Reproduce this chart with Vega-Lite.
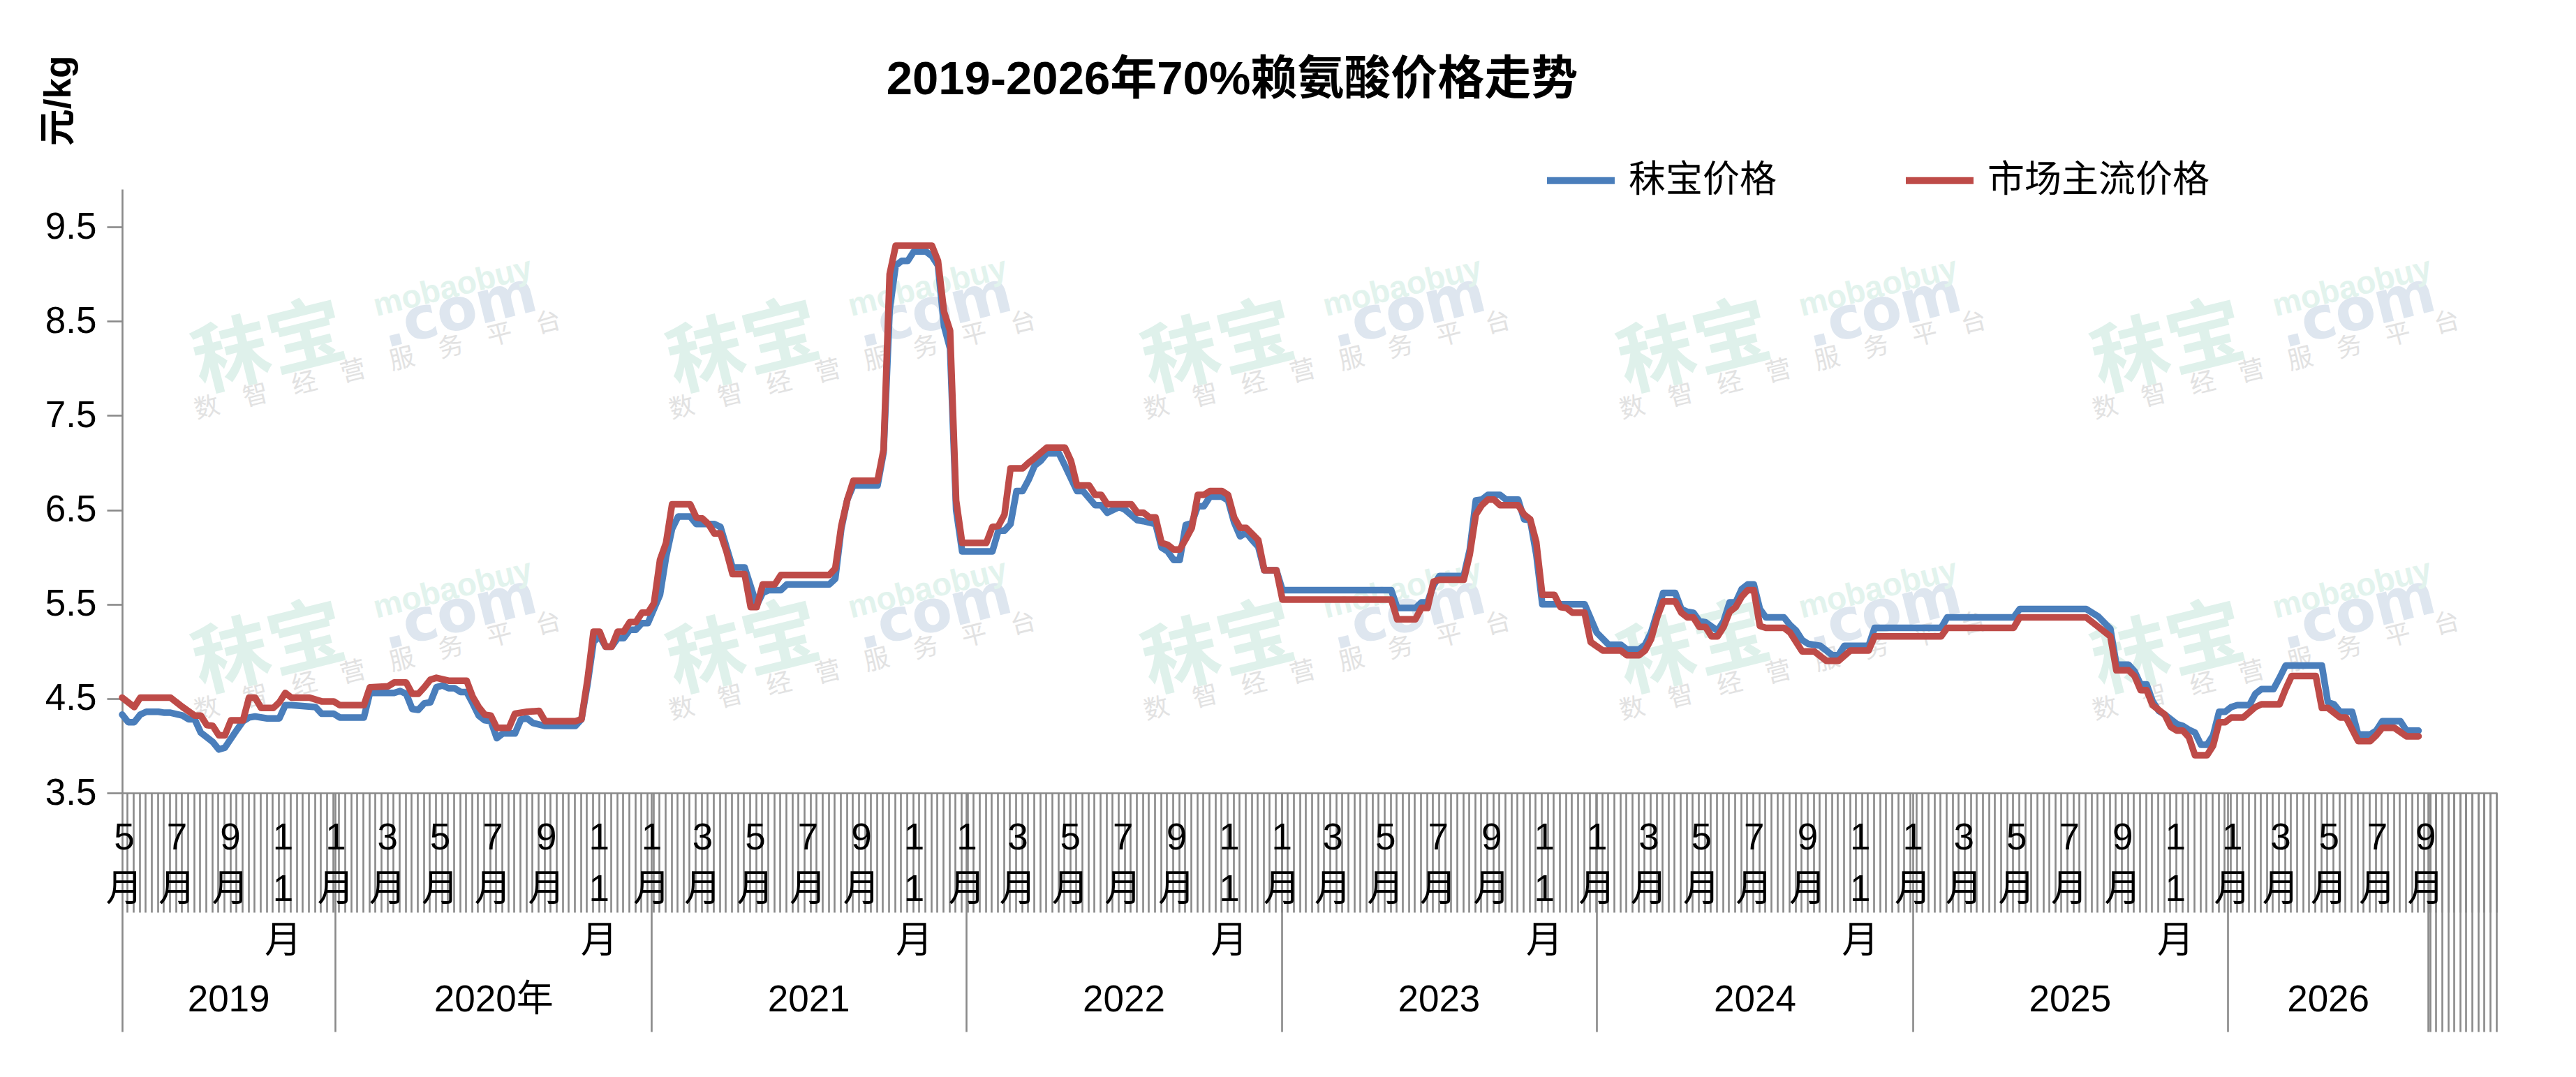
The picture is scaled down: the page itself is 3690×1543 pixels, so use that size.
{
"$schema": "https://vega.github.io/schema/vega-lite/v6.json",
"width": 3402,
"height": 865,
"autosize": {"type": "none"},
"padding": {"left": 175, "top": 271, "right": 113, "bottom": 407},
"background": "#ffffff",
"config": {"font": "Liberation Sans, Noto Sans CJK SC, sans-serif", "view": {"stroke": null}},
"title": {"text": "2019-2026年70%赖氨酸价格走势", "fontSize": 67, "fontWeight": "bold", "color": "#000000", "anchor": "middle", "frame": "group", "baseline": "alphabetic", "offset": 0, "dx": -111, "dy": 123},
"data": {"values": [
{"series":"秣宝价格","date":"2019-04-29","price":4.33},
{"series":"秣宝价格","date":"2019-05-06","price":4.25},
{"series":"秣宝价格","date":"2019-05-13","price":4.25},
{"series":"秣宝价格","date":"2019-05-20","price":4.33},
{"series":"秣宝价格","date":"2019-05-27","price":4.36},
{"series":"秣宝价格","date":"2019-06-10","price":4.36},
{"series":"秣宝价格","date":"2019-06-17","price":4.35},
{"series":"秣宝价格","date":"2019-06-24","price":4.35},
{"series":"秣宝价格","date":"2019-07-08","price":4.32},
{"series":"秣宝价格","date":"2019-07-15","price":4.28},
{"series":"秣宝价格","date":"2019-07-22","price":4.28},
{"series":"秣宝价格","date":"2019-07-29","price":4.14},
{"series":"秣宝价格","date":"2019-08-12","price":4.04},
{"series":"秣宝价格","date":"2019-08-19","price":3.96},
{"series":"秣宝价格","date":"2019-08-26","price":3.98},
{"series":"秣宝价格","date":"2019-09-09","price":4.17},
{"series":"秣宝价格","date":"2019-09-16","price":4.26},
{"series":"秣宝价格","date":"2019-09-23","price":4.30},
{"series":"秣宝价格","date":"2019-09-30","price":4.31},
{"series":"秣宝价格","date":"2019-10-14","price":4.29},
{"series":"秣宝价格","date":"2019-10-28","price":4.29},
{"series":"秣宝价格","date":"2019-11-04","price":4.43},
{"series":"秣宝价格","date":"2019-11-11","price":4.43},
{"series":"秣宝价格","date":"2019-12-09","price":4.41},
{"series":"秣宝价格","date":"2019-12-16","price":4.34},
{"series":"秣宝价格","date":"2019-12-30","price":4.34},
{"series":"秣宝价格","date":"2020-01-06","price":4.30},
{"series":"秣宝价格","date":"2020-02-03","price":4.30},
{"series":"秣宝价格","date":"2020-02-10","price":4.56},
{"series":"秣宝价格","date":"2020-03-09","price":4.56},
{"series":"秣宝价格","date":"2020-03-16","price":4.58},
{"series":"秣宝价格","date":"2020-03-23","price":4.55},
{"series":"秣宝价格","date":"2020-03-30","price":4.39},
{"series":"秣宝价格","date":"2020-04-06","price":4.38},
{"series":"秣宝价格","date":"2020-04-13","price":4.45},
{"series":"秣宝价格","date":"2020-04-20","price":4.46},
{"series":"秣宝价格","date":"2020-04-27","price":4.62},
{"series":"秣宝价格","date":"2020-05-04","price":4.64},
{"series":"秣宝价格","date":"2020-05-11","price":4.61},
{"series":"秣宝价格","date":"2020-05-18","price":4.61},
{"series":"秣宝价格","date":"2020-05-25","price":4.57},
{"series":"秣宝价格","date":"2020-06-01","price":4.57},
{"series":"秣宝价格","date":"2020-06-08","price":4.45},
{"series":"秣宝价格","date":"2020-06-15","price":4.32},
{"series":"秣宝价格","date":"2020-06-22","price":4.27},
{"series":"秣宝价格","date":"2020-06-29","price":4.26},
{"series":"秣宝价格","date":"2020-07-06","price":4.08},
{"series":"秣宝价格","date":"2020-07-13","price":4.13},
{"series":"秣宝价格","date":"2020-07-27","price":4.13},
{"series":"秣宝价格","date":"2020-08-03","price":4.28},
{"series":"秣宝价格","date":"2020-08-10","price":4.29},
{"series":"秣宝价格","date":"2020-08-17","price":4.24},
{"series":"秣宝价格","date":"2020-08-31","price":4.21},
{"series":"秣宝价格","date":"2020-10-05","price":4.21},
{"series":"秣宝价格","date":"2020-10-12","price":4.28},
{"series":"秣宝价格","date":"2020-10-19","price":4.65},
{"series":"秣宝价格","date":"2020-10-26","price":5.10},
{"series":"秣宝价格","date":"2020-11-02","price":5.16},
{"series":"秣宝价格","date":"2020-11-09","price":5.05},
{"series":"秣宝价格","date":"2020-11-16","price":5.05},
{"series":"秣宝价格","date":"2020-11-23","price":5.14},
{"series":"秣宝价格","date":"2020-11-30","price":5.14},
{"series":"秣宝价格","date":"2020-12-07","price":5.23},
{"series":"秣宝价格","date":"2020-12-14","price":5.23},
{"series":"秣宝价格","date":"2020-12-21","price":5.30},
{"series":"秣宝价格","date":"2020-12-28","price":5.30},
{"series":"秣宝价格","date":"2021-01-04","price":5.45},
{"series":"秣宝价格","date":"2021-01-11","price":5.60},
{"series":"秣宝价格","date":"2021-01-18","price":6.00},
{"series":"秣宝价格","date":"2021-01-25","price":6.30},
{"series":"秣宝价格","date":"2021-02-01","price":6.43},
{"series":"秣宝价格","date":"2021-02-15","price":6.43},
{"series":"秣宝价格","date":"2021-02-22","price":6.35},
{"series":"秣宝价格","date":"2021-03-15","price":6.35},
{"series":"秣宝价格","date":"2021-03-22","price":6.32},
{"series":"秣宝价格","date":"2021-04-05","price":5.89},
{"series":"秣宝价格","date":"2021-04-19","price":5.89},
{"series":"秣宝价格","date":"2021-05-03","price":5.49},
{"series":"秣宝价格","date":"2021-05-10","price":5.62},
{"series":"秣宝价格","date":"2021-05-17","price":5.65},
{"series":"秣宝价格","date":"2021-05-31","price":5.65},
{"series":"秣宝价格","date":"2021-06-07","price":5.71},
{"series":"秣宝价格","date":"2021-07-26","price":5.71},
{"series":"秣宝价格","date":"2021-08-02","price":5.77},
{"series":"秣宝价格","date":"2021-08-09","price":6.30},
{"series":"秣宝价格","date":"2021-08-16","price":6.61},
{"series":"秣宝价格","date":"2021-08-23","price":6.76},
{"series":"秣宝价格","date":"2021-09-20","price":6.76},
{"series":"秣宝价格","date":"2021-09-27","price":7.11},
{"series":"秣宝价格","date":"2021-10-04","price":8.62},
{"series":"秣宝价格","date":"2021-10-11","price":9.09},
{"series":"秣宝价格","date":"2021-10-18","price":9.14},
{"series":"秣宝价格","date":"2021-10-25","price":9.14},
{"series":"秣宝价格","date":"2021-11-01","price":9.24},
{"series":"秣宝价格","date":"2021-11-15","price":9.24},
{"series":"秣宝价格","date":"2021-11-22","price":9.19},
{"series":"秣宝价格","date":"2021-11-29","price":9.09},
{"series":"秣宝价格","date":"2021-12-06","price":8.45},
{"series":"秣宝价格","date":"2021-12-13","price":8.21},
{"series":"秣宝价格","date":"2021-12-20","price":6.50},
{"series":"秣宝价格","date":"2021-12-27","price":6.06},
{"series":"秣宝价格","date":"2022-01-31","price":6.06},
{"series":"秣宝价格","date":"2022-02-07","price":6.28},
{"series":"秣宝价格","date":"2022-02-14","price":6.28},
{"series":"秣宝价格","date":"2022-02-21","price":6.35},
{"series":"秣宝价格","date":"2022-02-28","price":6.70},
{"series":"秣宝价格","date":"2022-03-07","price":6.70},
{"series":"秣宝价格","date":"2022-03-14","price":6.82},
{"series":"秣宝价格","date":"2022-03-21","price":6.97},
{"series":"秣宝价格","date":"2022-03-28","price":7.02},
{"series":"秣宝价格","date":"2022-04-04","price":7.10},
{"series":"秣宝价格","date":"2022-04-18","price":7.10},
{"series":"秣宝价格","date":"2022-04-25","price":6.97},
{"series":"秣宝价格","date":"2022-05-09","price":6.70},
{"series":"秣宝价格","date":"2022-05-16","price":6.70},
{"series":"秣宝价格","date":"2022-05-30","price":6.55},
{"series":"秣宝价格","date":"2022-06-06","price":6.55},
{"series":"秣宝价格","date":"2022-06-13","price":6.47},
{"series":"秣宝价格","date":"2022-06-20","price":6.50},
{"series":"秣宝价格","date":"2022-06-27","price":6.53},
{"series":"秣宝价格","date":"2022-07-04","price":6.50},
{"series":"秣宝价格","date":"2022-07-18","price":6.39},
{"series":"秣宝价格","date":"2022-07-25","price":6.38},
{"series":"秣宝价格","date":"2022-08-08","price":6.35},
{"series":"秣宝价格","date":"2022-08-15","price":6.10},
{"series":"秣宝价格","date":"2022-08-22","price":6.06},
{"series":"秣宝价格","date":"2022-08-29","price":5.97},
{"series":"秣宝价格","date":"2022-09-05","price":5.97},
{"series":"秣宝价格","date":"2022-09-12","price":6.34},
{"series":"秣宝价格","date":"2022-09-19","price":6.36},
{"series":"秣宝价格","date":"2022-09-26","price":6.54},
{"series":"秣宝价格","date":"2022-10-03","price":6.54},
{"series":"秣宝价格","date":"2022-10-10","price":6.64},
{"series":"秣宝价格","date":"2022-10-24","price":6.64},
{"series":"秣宝价格","date":"2022-10-31","price":6.60},
{"series":"秣宝价格","date":"2022-11-07","price":6.37},
{"series":"秣宝价格","date":"2022-11-14","price":6.22},
{"series":"秣宝价格","date":"2022-11-21","price":6.26},
{"series":"秣宝价格","date":"2022-11-28","price":6.18},
{"series":"秣宝价格","date":"2022-12-05","price":6.11},
{"series":"秣宝价格","date":"2022-12-12","price":5.86},
{"series":"秣宝价格","date":"2022-12-26","price":5.86},
{"series":"秣宝价格","date":"2023-01-02","price":5.65},
{"series":"秣宝价格","date":"2023-05-08","price":5.65},
{"series":"秣宝价格","date":"2023-05-15","price":5.46},
{"series":"秣宝价格","date":"2023-06-05","price":5.46},
{"series":"秣宝价格","date":"2023-06-12","price":5.52},
{"series":"秣宝价格","date":"2023-06-19","price":5.52},
{"series":"秣宝价格","date":"2023-06-26","price":5.70},
{"series":"秣宝价格","date":"2023-07-03","price":5.80},
{"series":"秣宝价格","date":"2023-07-31","price":5.80},
{"series":"秣宝价格","date":"2023-08-07","price":6.08},
{"series":"秣宝价格","date":"2023-08-14","price":6.60},
{"series":"秣宝价格","date":"2023-08-21","price":6.61},
{"series":"秣宝价格","date":"2023-08-28","price":6.66},
{"series":"秣宝价格","date":"2023-09-11","price":6.66},
{"series":"秣宝价格","date":"2023-09-18","price":6.61},
{"series":"秣宝价格","date":"2023-10-02","price":6.61},
{"series":"秣宝价格","date":"2023-10-09","price":6.40},
{"series":"秣宝价格","date":"2023-10-16","price":6.39},
{"series":"秣宝价格","date":"2023-10-23","price":6.03},
{"series":"秣宝价格","date":"2023-10-30","price":5.50},
{"series":"秣宝价格","date":"2023-12-18","price":5.50},
{"series":"秣宝价格","date":"2023-12-25","price":5.35},
{"series":"秣宝价格","date":"2024-01-01","price":5.20},
{"series":"秣宝价格","date":"2024-01-15","price":5.07},
{"series":"秣宝价格","date":"2024-01-29","price":5.07},
{"series":"秣宝价格","date":"2024-02-05","price":5.02},
{"series":"秣宝价格","date":"2024-02-19","price":5.02},
{"series":"秣宝价格","date":"2024-02-26","price":5.07},
{"series":"秣宝价格","date":"2024-03-04","price":5.20},
{"series":"秣宝价格","date":"2024-03-18","price":5.62},
{"series":"秣宝价格","date":"2024-04-01","price":5.62},
{"series":"秣宝价格","date":"2024-04-08","price":5.45},
{"series":"秣宝价格","date":"2024-04-15","price":5.42},
{"series":"秣宝价格","date":"2024-04-22","price":5.41},
{"series":"秣宝价格","date":"2024-04-29","price":5.32},
{"series":"秣宝价格","date":"2024-05-06","price":5.31},
{"series":"秣宝价格","date":"2024-05-20","price":5.22},
{"series":"秣宝价格","date":"2024-05-27","price":5.32},
{"series":"秣宝价格","date":"2024-06-03","price":5.52},
{"series":"秣宝价格","date":"2024-06-10","price":5.52},
{"series":"秣宝价格","date":"2024-06-17","price":5.66},
{"series":"秣宝价格","date":"2024-06-24","price":5.71},
{"series":"秣宝价格","date":"2024-07-01","price":5.71},
{"series":"秣宝价格","date":"2024-07-08","price":5.45},
{"series":"秣宝价格","date":"2024-07-15","price":5.36},
{"series":"秣宝价格","date":"2024-08-05","price":5.36},
{"series":"秣宝价格","date":"2024-08-12","price":5.28},
{"series":"秣宝价格","date":"2024-08-19","price":5.22},
{"series":"秣宝价格","date":"2024-08-26","price":5.12},
{"series":"秣宝价格","date":"2024-09-02","price":5.08},
{"series":"秣宝价格","date":"2024-09-16","price":5.06},
{"series":"秣宝价格","date":"2024-09-30","price":4.96},
{"series":"秣宝价格","date":"2024-10-07","price":4.96},
{"series":"秣宝价格","date":"2024-10-14","price":5.06},
{"series":"秣宝价格","date":"2024-11-11","price":5.06},
{"series":"秣宝价格","date":"2024-11-18","price":5.25},
{"series":"秣宝价格","date":"2025-02-03","price":5.25},
{"series":"秣宝价格","date":"2025-02-10","price":5.36},
{"series":"秣宝价格","date":"2025-04-28","price":5.36},
{"series":"秣宝价格","date":"2025-05-05","price":5.45},
{"series":"秣宝价格","date":"2025-07-21","price":5.45},
{"series":"秣宝价格","date":"2025-08-04","price":5.37},
{"series":"秣宝价格","date":"2025-08-18","price":5.24},
{"series":"秣宝价格","date":"2025-08-25","price":4.86},
{"series":"秣宝价格","date":"2025-09-08","price":4.86},
{"series":"秣宝价格","date":"2025-09-15","price":4.79},
{"series":"秣宝价格","date":"2025-09-22","price":4.65},
{"series":"秣宝价格","date":"2025-09-29","price":4.65},
{"series":"秣宝价格","date":"2025-10-06","price":4.47},
{"series":"秣宝价格","date":"2025-10-13","price":4.37},
{"series":"秣宝价格","date":"2025-10-20","price":4.33},
{"series":"秣宝价格","date":"2025-11-03","price":4.23},
{"series":"秣宝价格","date":"2025-11-10","price":4.21},
{"series":"秣宝价格","date":"2025-11-17","price":4.17},
{"series":"秣宝价格","date":"2025-11-24","price":4.14},
{"series":"秣宝价格","date":"2025-12-01","price":4.01},
{"series":"秣宝价格","date":"2025-12-08","price":4.01},
{"series":"秣宝价格","date":"2025-12-15","price":4.11},
{"series":"秣宝价格","date":"2025-12-22","price":4.36},
{"series":"秣宝价格","date":"2025-12-29","price":4.36},
{"series":"秣宝价格","date":"2026-01-05","price":4.41},
{"series":"秣宝价格","date":"2026-01-12","price":4.43},
{"series":"秣宝价格","date":"2026-01-26","price":4.43},
{"series":"秣宝价格","date":"2026-02-02","price":4.55},
{"series":"秣宝价格","date":"2026-02-09","price":4.60},
{"series":"秣宝价格","date":"2026-02-23","price":4.60},
{"series":"秣宝价格","date":"2026-03-02","price":4.72},
{"series":"秣宝价格","date":"2026-03-09","price":4.85},
{"series":"秣宝价格","date":"2026-04-20","price":4.85},
{"series":"秣宝价格","date":"2026-04-27","price":4.46},
{"series":"秣宝价格","date":"2026-05-04","price":4.44},
{"series":"秣宝价格","date":"2026-05-11","price":4.36},
{"series":"秣宝价格","date":"2026-05-25","price":4.36},
{"series":"秣宝价格","date":"2026-06-01","price":4.12},
{"series":"秣宝价格","date":"2026-06-15","price":4.12},
{"series":"秣宝价格","date":"2026-06-22","price":4.16},
{"series":"秣宝价格","date":"2026-06-29","price":4.26},
{"series":"秣宝价格","date":"2026-07-20","price":4.26},
{"series":"秣宝价格","date":"2026-07-27","price":4.16},
{"series":"秣宝价格","date":"2026-08-10","price":4.16},
{"series":"市场主流价格","date":"2019-04-29","price":4.51},
{"series":"市场主流价格","date":"2019-05-13","price":4.41},
{"series":"市场主流价格","date":"2019-05-20","price":4.51},
{"series":"市场主流价格","date":"2019-06-24","price":4.51},
{"series":"市场主流价格","date":"2019-07-08","price":4.41},
{"series":"市场主流价格","date":"2019-07-22","price":4.32},
{"series":"市场主流价格","date":"2019-07-29","price":4.32},
{"series":"市场主流价格","date":"2019-08-05","price":4.22},
{"series":"市场主流价格","date":"2019-08-12","price":4.21},
{"series":"市场主流价格","date":"2019-08-19","price":4.11},
{"series":"市场主流价格","date":"2019-08-26","price":4.11},
{"series":"市场主流价格","date":"2019-09-02","price":4.27},
{"series":"市场主流价格","date":"2019-09-16","price":4.27},
{"series":"市场主流价格","date":"2019-09-23","price":4.51},
{"series":"市场主流价格","date":"2019-09-30","price":4.51},
{"series":"市场主流价格","date":"2019-10-07","price":4.40},
{"series":"市场主流价格","date":"2019-10-21","price":4.40},
{"series":"市场主流价格","date":"2019-10-28","price":4.46},
{"series":"市场主流价格","date":"2019-11-04","price":4.56},
{"series":"市场主流价格","date":"2019-11-11","price":4.51},
{"series":"市场主流价格","date":"2019-12-02","price":4.51},
{"series":"市场主流价格","date":"2019-12-16","price":4.47},
{"series":"市场主流价格","date":"2019-12-30","price":4.47},
{"series":"市场主流价格","date":"2020-01-06","price":4.43},
{"series":"市场主流价格","date":"2020-02-03","price":4.43},
{"series":"市场主流价格","date":"2020-02-10","price":4.62},
{"series":"市场主流价格","date":"2020-03-02","price":4.63},
{"series":"市场主流价格","date":"2020-03-09","price":4.67},
{"series":"市场主流价格","date":"2020-03-23","price":4.67},
{"series":"市场主流价格","date":"2020-03-30","price":4.55},
{"series":"市场主流价格","date":"2020-04-06","price":4.55},
{"series":"市场主流价格","date":"2020-04-13","price":4.62},
{"series":"市场主流价格","date":"2020-04-20","price":4.70},
{"series":"市场主流价格","date":"2020-04-27","price":4.72},
{"series":"市场主流价格","date":"2020-05-11","price":4.69},
{"series":"市场主流价格","date":"2020-06-01","price":4.69},
{"series":"市场主流价格","date":"2020-06-08","price":4.52},
{"series":"市场主流价格","date":"2020-06-15","price":4.41},
{"series":"市场主流价格","date":"2020-06-22","price":4.33},
{"series":"市场主流价格","date":"2020-06-29","price":4.32},
{"series":"市场主流价格","date":"2020-07-06","price":4.19},
{"series":"市场主流价格","date":"2020-07-20","price":4.19},
{"series":"市场主流价格","date":"2020-07-27","price":4.34},
{"series":"市场主流价格","date":"2020-08-10","price":4.36},
{"series":"市场主流价格","date":"2020-08-24","price":4.37},
{"series":"市场主流价格","date":"2020-08-31","price":4.26},
{"series":"市场主流价格","date":"2020-10-05","price":4.26},
{"series":"市场主流价格","date":"2020-10-12","price":4.28},
{"series":"市场主流价格","date":"2020-10-19","price":4.70},
{"series":"市场主流价格","date":"2020-10-26","price":5.21},
{"series":"市场主流价格","date":"2020-11-02","price":5.21},
{"series":"市场主流价格","date":"2020-11-09","price":5.05},
{"series":"市场主流价格","date":"2020-11-16","price":5.05},
{"series":"市场主流价格","date":"2020-11-23","price":5.21},
{"series":"市场主流价格","date":"2020-11-30","price":5.21},
{"series":"市场主流价格","date":"2020-12-07","price":5.31},
{"series":"市场主流价格","date":"2020-12-14","price":5.31},
{"series":"市场主流价格","date":"2020-12-21","price":5.41},
{"series":"市场主流价格","date":"2020-12-28","price":5.41},
{"series":"市场主流价格","date":"2021-01-04","price":5.51},
{"series":"市场主流价格","date":"2021-01-11","price":5.97},
{"series":"市场主流价格","date":"2021-01-18","price":6.15},
{"series":"市场主流价格","date":"2021-01-25","price":6.56},
{"series":"市场主流价格","date":"2021-02-15","price":6.56},
{"series":"市场主流价格","date":"2021-02-22","price":6.42},
{"series":"市场主流价格","date":"2021-03-01","price":6.41},
{"series":"市场主流价格","date":"2021-03-08","price":6.35},
{"series":"市场主流价格","date":"2021-03-15","price":6.25},
{"series":"市场主流价格","date":"2021-03-22","price":6.25},
{"series":"市场主流价格","date":"2021-03-29","price":6.06},
{"series":"市场主流价格","date":"2021-04-05","price":5.82},
{"series":"市场主流价格","date":"2021-04-19","price":5.82},
{"series":"市场主流价格","date":"2021-04-26","price":5.47},
{"series":"市场主流价格","date":"2021-05-03","price":5.47},
{"series":"市场主流价格","date":"2021-05-10","price":5.71},
{"series":"市场主流价格","date":"2021-05-24","price":5.71},
{"series":"市场主流价格","date":"2021-05-31","price":5.81},
{"series":"市场主流价格","date":"2021-07-26","price":5.81},
{"series":"市场主流价格","date":"2021-08-02","price":5.88},
{"series":"市场主流价格","date":"2021-08-09","price":6.33},
{"series":"市场主流价格","date":"2021-08-16","price":6.61},
{"series":"市场主流价格","date":"2021-08-23","price":6.81},
{"series":"市场主流价格","date":"2021-09-20","price":6.81},
{"series":"市场主流价格","date":"2021-09-27","price":7.14},
{"series":"市场主流价格","date":"2021-10-04","price":9.00},
{"series":"市场主流价格","date":"2021-10-11","price":9.30},
{"series":"市场主流价格","date":"2021-11-22","price":9.30},
{"series":"市场主流价格","date":"2021-11-29","price":9.14},
{"series":"市场主流价格","date":"2021-12-06","price":8.60},
{"series":"市场主流价格","date":"2021-12-13","price":8.40},
{"series":"市场主流价格","date":"2021-12-20","price":6.60},
{"series":"市场主流价格","date":"2021-12-27","price":6.15},
{"series":"市场主流价格","date":"2022-01-24","price":6.15},
{"series":"市场主流价格","date":"2022-01-31","price":6.32},
{"series":"市场主流价格","date":"2022-02-07","price":6.33},
{"series":"市场主流价格","date":"2022-02-14","price":6.45},
{"series":"市场主流价格","date":"2022-02-21","price":6.94},
{"series":"市场主流价格","date":"2022-03-07","price":6.94},
{"series":"市场主流价格","date":"2022-03-14","price":7.00},
{"series":"市场主流价格","date":"2022-03-21","price":7.05},
{"series":"市场主流价格","date":"2022-04-04","price":7.16},
{"series":"市场主流价格","date":"2022-04-25","price":7.16},
{"series":"市场主流价格","date":"2022-05-02","price":7.02},
{"series":"市场主流价格","date":"2022-05-09","price":6.76},
{"series":"市场主流价格","date":"2022-05-23","price":6.76},
{"series":"市场主流价格","date":"2022-05-30","price":6.66},
{"series":"市场主流价格","date":"2022-06-06","price":6.66},
{"series":"市场主流价格","date":"2022-06-13","price":6.56},
{"series":"市场主流价格","date":"2022-07-11","price":6.56},
{"series":"市场主流价格","date":"2022-07-18","price":6.47},
{"series":"市场主流价格","date":"2022-07-25","price":6.47},
{"series":"市场主流价格","date":"2022-08-01","price":6.42},
{"series":"市场主流价格","date":"2022-08-08","price":6.42},
{"series":"市场主流价格","date":"2022-08-15","price":6.15},
{"series":"市场主流价格","date":"2022-08-22","price":6.13},
{"series":"市场主流价格","date":"2022-08-29","price":6.08},
{"series":"市场主流价格","date":"2022-09-05","price":6.08},
{"series":"市场主流价格","date":"2022-09-12","price":6.19},
{"series":"市场主流价格","date":"2022-09-19","price":6.31},
{"series":"市场主流价格","date":"2022-09-26","price":6.66},
{"series":"市场主流价格","date":"2022-10-03","price":6.66},
{"series":"市场主流价格","date":"2022-10-10","price":6.70},
{"series":"市场主流价格","date":"2022-10-24","price":6.70},
{"series":"市场主流价格","date":"2022-10-31","price":6.66},
{"series":"市场主流价格","date":"2022-11-07","price":6.42},
{"series":"市场主流价格","date":"2022-11-14","price":6.31},
{"series":"市场主流价格","date":"2022-11-21","price":6.31},
{"series":"市场主流价格","date":"2022-12-05","price":6.18},
{"series":"市场主流价格","date":"2022-12-12","price":5.86},
{"series":"市场主流价格","date":"2022-12-26","price":5.86},
{"series":"市场主流价格","date":"2023-01-02","price":5.55},
{"series":"市场主流价格","date":"2023-05-08","price":5.55},
{"series":"市场主流价格","date":"2023-05-15","price":5.34},
{"series":"市场主流价格","date":"2023-06-05","price":5.34},
{"series":"市场主流价格","date":"2023-06-12","price":5.46},
{"series":"市场主流价格","date":"2023-06-19","price":5.46},
{"series":"市场主流价格","date":"2023-06-26","price":5.74},
{"series":"市场主流价格","date":"2023-07-03","price":5.76},
{"series":"市场主流价格","date":"2023-07-31","price":5.76},
{"series":"市场主流价格","date":"2023-08-07","price":6.03},
{"series":"市场主流价格","date":"2023-08-14","price":6.45},
{"series":"市场主流价格","date":"2023-08-21","price":6.55},
{"series":"市场主流价格","date":"2023-08-28","price":6.61},
{"series":"市场主流价格","date":"2023-09-04","price":6.61},
{"series":"市场主流价格","date":"2023-09-11","price":6.55},
{"series":"市场主流价格","date":"2023-10-02","price":6.55},
{"series":"市场主流价格","date":"2023-10-09","price":6.45},
{"series":"市场主流价格","date":"2023-10-16","price":6.40},
{"series":"市场主流价格","date":"2023-10-23","price":6.16},
{"series":"市场主流价格","date":"2023-10-30","price":5.60},
{"series":"市场主流价格","date":"2023-11-13","price":5.60},
{"series":"市场主流价格","date":"2023-11-20","price":5.47},
{"series":"市场主流价格","date":"2023-11-27","price":5.46},
{"series":"市场主流价格","date":"2023-12-04","price":5.41},
{"series":"市场主流价格","date":"2023-12-18","price":5.41},
{"series":"市场主流价格","date":"2023-12-25","price":5.10},
{"series":"市场主流价格","date":"2024-01-08","price":5.01},
{"series":"市场主流价格","date":"2024-01-29","price":5.01},
{"series":"市场主流价格","date":"2024-02-05","price":4.96},
{"series":"市场主流价格","date":"2024-02-19","price":4.96},
{"series":"市场主流价格","date":"2024-02-26","price":5.01},
{"series":"市场主流价格","date":"2024-03-04","price":5.13},
{"series":"市场主流价格","date":"2024-03-11","price":5.36},
{"series":"市场主流价格","date":"2024-03-18","price":5.53},
{"series":"市场主流价格","date":"2024-04-01","price":5.53},
{"series":"市场主流价格","date":"2024-04-08","price":5.41},
{"series":"市场主流价格","date":"2024-04-15","price":5.36},
{"series":"市场主流价格","date":"2024-04-22","price":5.36},
{"series":"市场主流价格","date":"2024-04-29","price":5.26},
{"series":"市场主流价格","date":"2024-05-06","price":5.26},
{"series":"市场主流价格","date":"2024-05-13","price":5.16},
{"series":"市场主流价格","date":"2024-05-20","price":5.16},
{"series":"市场主流价格","date":"2024-05-27","price":5.26},
{"series":"市场主流价格","date":"2024-06-03","price":5.42},
{"series":"市场主流价格","date":"2024-06-10","price":5.47},
{"series":"市场主流价格","date":"2024-06-17","price":5.58},
{"series":"市场主流价格","date":"2024-06-24","price":5.65},
{"series":"市场主流价格","date":"2024-07-01","price":5.65},
{"series":"市场主流价格","date":"2024-07-08","price":5.27},
{"series":"市场主流价格","date":"2024-07-15","price":5.25},
{"series":"市场主流价格","date":"2024-08-05","price":5.25},
{"series":"市场主流价格","date":"2024-08-12","price":5.20},
{"series":"市场主流价格","date":"2024-08-26","price":5.00},
{"series":"市场主流价格","date":"2024-09-09","price":5.00},
{"series":"市场主流价格","date":"2024-09-23","price":4.90},
{"series":"市场主流价格","date":"2024-10-07","price":4.90},
{"series":"市场主流价格","date":"2024-10-21","price":5.01},
{"series":"市场主流价格","date":"2024-11-11","price":5.01},
{"series":"市场主流价格","date":"2024-11-18","price":5.16},
{"series":"市场主流价格","date":"2025-02-03","price":5.16},
{"series":"市场主流价格","date":"2025-02-10","price":5.25},
{"series":"市场主流价格","date":"2025-04-28","price":5.25},
{"series":"市场主流价格","date":"2025-05-05","price":5.36},
{"series":"市场主流价格","date":"2025-07-21","price":5.36},
{"series":"市场主流价格","date":"2025-08-04","price":5.26},
{"series":"市场主流价格","date":"2025-08-18","price":5.16},
{"series":"市场主流价格","date":"2025-08-25","price":4.80},
{"series":"市场主流价格","date":"2025-09-08","price":4.80},
{"series":"市场主流价格","date":"2025-09-15","price":4.74},
{"series":"市场主流价格","date":"2025-09-22","price":4.59},
{"series":"市场主流价格","date":"2025-09-29","price":4.59},
{"series":"市场主流价格","date":"2025-10-06","price":4.43},
{"series":"市场主流价格","date":"2025-10-20","price":4.33},
{"series":"市场主流价格","date":"2025-10-27","price":4.20},
{"series":"市场主流价格","date":"2025-11-03","price":4.16},
{"series":"市场主流价格","date":"2025-11-10","price":4.16},
{"series":"市场主流价格","date":"2025-11-17","price":4.09},
{"series":"市场主流价格","date":"2025-11-24","price":3.90},
{"series":"市场主流价格","date":"2025-12-08","price":3.90},
{"series":"市场主流价格","date":"2025-12-15","price":4.00},
{"series":"市场主流价格","date":"2025-12-22","price":4.25},
{"series":"市场主流价格","date":"2025-12-29","price":4.25},
{"series":"市场主流价格","date":"2026-01-05","price":4.30},
{"series":"市场主流价格","date":"2026-01-19","price":4.30},
{"series":"市场主流价格","date":"2026-02-02","price":4.41},
{"series":"市场主流价格","date":"2026-02-09","price":4.44},
{"series":"市场主流价格","date":"2026-03-02","price":4.44},
{"series":"市场主流价格","date":"2026-03-09","price":4.60},
{"series":"市场主流价格","date":"2026-03-16","price":4.74},
{"series":"市场主流价格","date":"2026-04-13","price":4.74},
{"series":"市场主流价格","date":"2026-04-20","price":4.40},
{"series":"市场主流价格","date":"2026-04-27","price":4.40},
{"series":"市场主流价格","date":"2026-05-11","price":4.30},
{"series":"市场主流价格","date":"2026-05-18","price":4.30},
{"series":"市场主流价格","date":"2026-06-01","price":4.05},
{"series":"市场主流价格","date":"2026-06-15","price":4.05},
{"series":"市场主流价格","date":"2026-06-22","price":4.11},
{"series":"市场主流价格","date":"2026-06-29","price":4.19},
{"series":"市场主流价格","date":"2026-07-13","price":4.19},
{"series":"市场主流价格","date":"2026-07-27","price":4.10},
{"series":"市场主流价格","date":"2026-08-10","price":4.10}
]},
"resolve": {"axis": {"x": "independent", "y": "independent"}},
"layer": [
{
"data": {"values": [
{"text":"秣宝","date":"2019-10-17","price":8.20},{"text":"秣宝","date":"2021-04-19","price":8.20},{"text":"秣宝","date":"2022-10-21","price":8.20},{"text":"秣宝","date":"2024-04-24","price":8.20},{"text":"秣宝","date":"2025-10-25","price":8.20},
{"text":"秣宝","date":"2019-10-17","price":5.01},{"text":"秣宝","date":"2021-04-19","price":5.01},{"text":"秣宝","date":"2022-10-21","price":5.01},{"text":"秣宝","date":"2024-04-24","price":5.01},{"text":"秣宝","date":"2025-10-25","price":5.01}
]},
"mark": {"type": "text", "font": "Noto Sans CJK SC", "fontWeight": "bold", "fontSize": 110, "angle": 346, "align": "center", "baseline": "middle", "color": "#DFF1EB", "clip": false},
"encoding": {"x": {"field": "date", "type": "temporal", "axis": null}, "y": {"field": "price", "type": "quantitative", "axis": null}, "text": {"field": "text"}}
},
{
"data": {"values": [
{"text":".com","date":"2020-05-23","price":8.60},{"text":".com","date":"2021-11-24","price":8.60},{"text":".com","date":"2023-05-27","price":8.60},{"text":".com","date":"2024-11-28","price":8.60},{"text":".com","date":"2026-05-31","price":8.60},
{"text":".com","date":"2020-05-23","price":5.40},{"text":".com","date":"2021-11-24","price":5.40},{"text":".com","date":"2023-05-27","price":5.40},{"text":".com","date":"2024-11-28","price":5.40},{"text":".com","date":"2026-05-31","price":5.40}
]},
"mark": {"type": "text", "font": "DejaVu Sans", "fontWeight": "bold", "fontSize": 84, "angle": 346, "align": "center", "baseline": "middle", "color": "#DEE6EF", "clip": false},
"encoding": {"x": {"field": "date", "type": "temporal", "axis": null}, "y": {"field": "price", "type": "quantitative", "axis": null}, "text": {"field": "text"}}
},
{
"data": {"values": [
{"text":"mobaobuy","date":"2020-05-16","price":8.86},{"text":"mobaobuy","date":"2021-11-17","price":8.86},{"text":"mobaobuy","date":"2023-05-21","price":8.86},{"text":"mobaobuy","date":"2024-11-22","price":8.86},{"text":"mobaobuy","date":"2026-05-25","price":8.86},
{"text":"mobaobuy","date":"2020-05-16","price":5.66},{"text":"mobaobuy","date":"2021-11-17","price":5.66},{"text":"mobaobuy","date":"2023-05-21","price":5.66},{"text":"mobaobuy","date":"2024-11-22","price":5.66},{"text":"mobaobuy","date":"2026-05-25","price":5.66}
]},
"mark": {"type": "text", "font": "Liberation Sans", "fontWeight": "bold", "fontSize": 46, "angle": 346, "align": "center", "baseline": "middle", "color": "#E2F3ED", "clip": false},
"encoding": {"x": {"field": "date", "type": "temporal", "axis": null}, "y": {"field": "price", "type": "quantitative", "axis": null}, "text": {"field": "text"}}
},
{
"data": {"values": [
{"text":"数　智　经　营　服　务　平　台","date":"2020-02-19","price":8.03},{"text":"数　智　经　营　服　务　平　台","date":"2021-08-22","price":8.03},{"text":"数　智　经　营　服　务　平　台","date":"2023-02-23","price":8.03},{"text":"数　智　经　营　服　务　平　台","date":"2024-08-27","price":8.03},{"text":"数　智　经　营　服　务　平　台","date":"2026-02-26","price":8.03},
{"text":"数　智　经　营　服　务　平　台","date":"2020-02-19","price":4.84},{"text":"数　智　经　营　服　务　平　台","date":"2021-08-22","price":4.84},{"text":"数　智　经　营　服　务　平　台","date":"2023-02-23","price":4.84},{"text":"数　智　经　营　服　务　平　台","date":"2024-08-27","price":4.84},{"text":"数　智　经　营　服　务　平　台","date":"2026-02-26","price":4.84}
]},
"mark": {"type": "text", "font": "Noto Sans CJK SC", "fontSize": 36, "angle": 346, "align": "center", "baseline": "middle", "color": "#E2E2E2", "clip": false},
"encoding": {"x": {"field": "date", "type": "temporal", "axis": null}, "y": {"field": "price", "type": "quantitative", "axis": null}, "text": {"field": "text"}}
},
{
"transform": [{"filter": "datum.series == '秣宝价格'"}],
"mark": {"type": "line", "strokeWidth": 9.5, "strokeCap": "round", "strokeJoin": "round", "clip": false},
"encoding": {
"x": {"field": "date", "type": "temporal",
 "scale": {"domain": [{"year": 2019, "month": 4, "date": 29}, {"year": 2026, "month": 11, "date": 9}], "nice": false},
 "axis": {"orient": "bottom", "title": null, "grid": false, "labels": false, "tickCount": {"interval": "week", "step": 1}, "ticks": true, "tickSize": 171, "tickColor": "#8a8a8a", "tickWidth": 2.6, "domain": true, "domainColor": "#8a8a8a", "domainWidth": 2.6}},
"y": {"field": "price", "type": "quantitative",
 "scale": {"domain": [3.5, 9.9], "nice": false, "zero": false},
 "axis": {"orient": "left", "values": [3.5, 4.5, 5.5, 6.5, 7.5, 8.5, 9.5], "format": ".1f", "grid": false, "domainColor": "#8a8a8a", "domainWidth": 2.6, "tickColor": "#8a8a8a", "tickWidth": 2.6, "tickSize": 22, "labelFontSize": 53, "labelPadding": 15, "labelColor": "#000000", "labelOverlap": false, "labelFlush": false, "title": "元/kg", "titleFontSize": 53, "titleFontWeight": "bold", "titleColor": "#000000", "titleAngle": 270, "titleX": -75, "titleY": -127, "titleAlign": "center", "titleBaseline": "alphabetic"}},
"color": {"field": "series", "type": "nominal",
 "scale": {"domain": ["秣宝价格", "市场主流价格"], "range": ["#4A7EBB", "#BE4B48"]},
 "legend": {"title": null, "orient": "none", "legendX": 2036, "legendY": -66, "direction": "horizontal", "symbolType": "stroke", "symbolSize": 9400, "symbolStrokeWidth": 10, "labelFontSize": 53, "labelColor": "#000000", "labelOffset": 15, "columnPadding": 165, "labelLimit": 0, "padding": 0}}
}
},
{
"transform": [{"filter": "datum.series == '市场主流价格'"}],
"mark": {"type": "line", "strokeWidth": 9.5, "strokeCap": "round", "strokeJoin": "round", "clip": false},
"encoding": {
"x": {"field": "date", "type": "temporal", "axis": null},
"y": {"field": "price", "type": "quantitative", "axis": null},
"color": {"field": "series", "type": "nominal"}
}
},
{
"data": {"values": [{}]},
"mark": {"type": "point", "opacity": 0},
"encoding": {"x": {"datum": {"year": 2020, "month": 1, "date": 1}, "type": "temporal",
 "axis": {"orient": "bottom", "title": null, "grid": false, "labels": false, "domain": false, "ticks": true, "tickSize": 342, "tickColor": "#8a8a8a", "tickWidth": 2.6,
 "values": [{"year": 2019, "month": 4, "date": 29}, {"year": 2020, "month": 1, "date": 1}, {"year": 2021, "month": 1, "date": 1}, {"year": 2022, "month": 1, "date": 1}, {"year": 2023, "month": 1, "date": 1}, {"year": 2024, "month": 1, "date": 1}, {"year": 2025, "month": 1, "date": 1}, {"year": 2026, "month": 1, "date": 1}, {"year": 2026, "month": 8, "date": 21}, {"year": 2026, "month": 8, "date": 23}, {"year": 2026, "month": 8, "date": 30}, {"year": 2026, "month": 9, "date": 6}, {"year": 2026, "month": 9, "date": 13}, {"year": 2026, "month": 9, "date": 20}, {"year": 2026, "month": 9, "date": 27}, {"year": 2026, "month": 10, "date": 4}, {"year": 2026, "month": 10, "date": 11}, {"year": 2026, "month": 10, "date": 18}, {"year": 2026, "month": 10, "date": 25}, {"year": 2026, "month": 11, "date": 1}, {"year": 2026, "month": 11, "date": 8}]}}}
},
{
"data": {"values": [{}]},
"mark": {"type": "point", "opacity": 0},
"encoding": {"x": {"datum": {"year": 2020, "month": 1, "date": 1}, "type": "temporal",
 "axis": {"orient": "bottom", "title": null, "grid": false, "domain": false, "ticks": false, "tickSize": 0, "labelPadding": 38, "labelFontSize": 53, "labelLineHeight": 74, "labelColor": "#000000", "labelOverlap": false, "labelBound": false, "labelFlush": false, "labelAlign": "center", "labelBaseline": "top", "labelLimit": 0,
 "labelExpr": "timeFormat(+datum.value + 1382400000, '%-m') == '11' ? ['1', '1', '月'] : [timeFormat(+datum.value + 1382400000, '%-m'), '月']",
 "values": [{"year": 2019, "month": 5, "date": 1}, {"year": 2019, "month": 7, "date": 1}, {"year": 2019, "month": 9, "date": 1}, {"year": 2019, "month": 11, "date": 1},
 {"year": 2020, "month": 1, "date": 1}, {"year": 2020, "month": 3, "date": 1}, {"year": 2020, "month": 5, "date": 1}, {"year": 2020, "month": 7, "date": 1}, {"year": 2020, "month": 9, "date": 1}, {"year": 2020, "month": 11, "date": 1},
 {"year": 2021, "month": 1, "date": 1}, {"year": 2021, "month": 3, "date": 1}, {"year": 2021, "month": 5, "date": 1}, {"year": 2021, "month": 7, "date": 1}, {"year": 2021, "month": 9, "date": 1}, {"year": 2021, "month": 11, "date": 1},
 {"year": 2022, "month": 1, "date": 1}, {"year": 2022, "month": 3, "date": 1}, {"year": 2022, "month": 5, "date": 1}, {"year": 2022, "month": 7, "date": 1}, {"year": 2022, "month": 9, "date": 1}, {"year": 2022, "month": 11, "date": 1},
 {"year": 2023, "month": 1, "date": 1}, {"year": 2023, "month": 3, "date": 1}, {"year": 2023, "month": 5, "date": 1}, {"year": 2023, "month": 7, "date": 1}, {"year": 2023, "month": 9, "date": 1}, {"year": 2023, "month": 11, "date": 1},
 {"year": 2024, "month": 1, "date": 1}, {"year": 2024, "month": 3, "date": 1}, {"year": 2024, "month": 5, "date": 1}, {"year": 2024, "month": 7, "date": 1}, {"year": 2024, "month": 9, "date": 1}, {"year": 2024, "month": 11, "date": 1},
 {"year": 2025, "month": 1, "date": 1}, {"year": 2025, "month": 3, "date": 1}, {"year": 2025, "month": 5, "date": 1}, {"year": 2025, "month": 7, "date": 1}, {"year": 2025, "month": 9, "date": 1}, {"year": 2025, "month": 11, "date": 1},
 {"year": 2026, "month": 1, "date": 6}, {"year": 2026, "month": 3, "date": 3}, {"year": 2026, "month": 4, "date": 28}, {"year": 2026, "month": 6, "date": 23}, {"year": 2026, "month": 8, "date": 18}]}}}
},
{
"data": {"values": [{}]},
"mark": {"type": "point", "opacity": 0},
"encoding": {"x": {"datum": {"year": 2020, "month": 1, "date": 1}, "type": "temporal",
 "axis": {"orient": "bottom", "title": null, "grid": false, "domain": false, "ticks": false, "tickSize": 0, "labelPadding": 270, "labelFontSize": 53, "labelColor": "#000000", "labelOverlap": false, "labelBound": false, "labelFlush": false, "labelAlign": "center", "labelBaseline": "top", "labelLimit": 0,
 "labelExpr": "timeFormat(datum.value, '%Y') == '2020' ? '2020年' : timeFormat(datum.value, '%Y')",
 "values": [{"year": 2019, "month": 8, "date": 30}, {"year": 2020, "month": 7, "date": 2}, {"year": 2021, "month": 7, "date": 2}, {"year": 2022, "month": 7, "date": 2}, {"year": 2023, "month": 7, "date": 2}, {"year": 2024, "month": 7, "date": 2}, {"year": 2025, "month": 7, "date": 2}, {"year": 2026, "month": 4, "date": 27}]}}}
}
]
}
